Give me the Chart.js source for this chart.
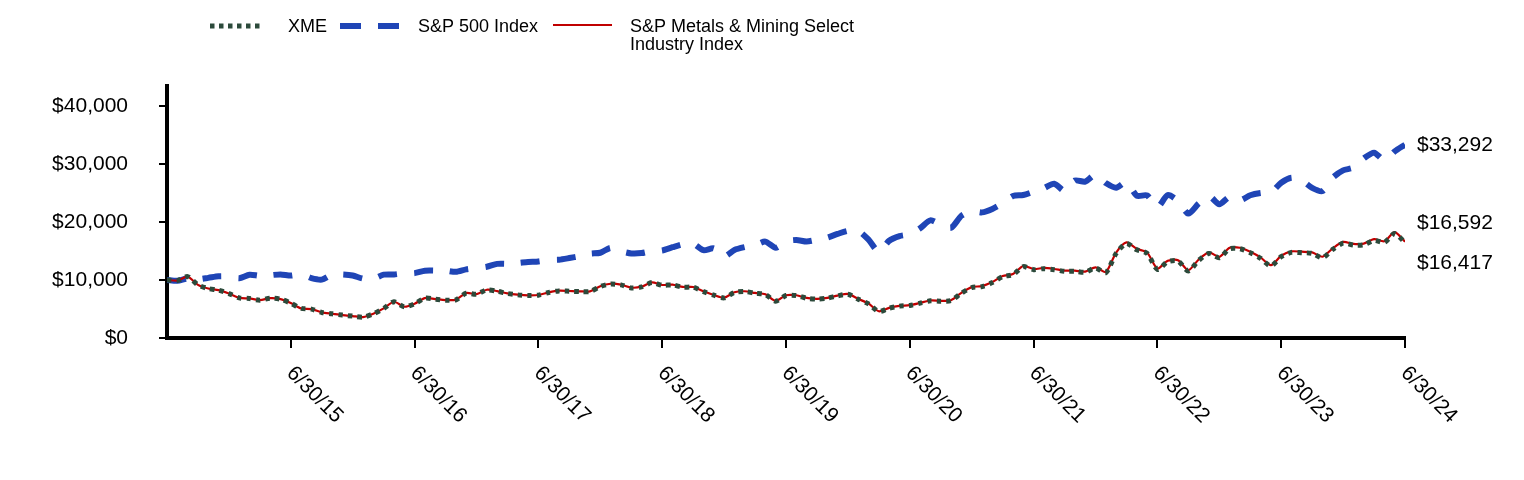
<!DOCTYPE html>
<html>
<head>
<meta charset="utf-8">
<script src="https://cdn.jsdelivr.net/npm/chart.js@4.4.1/dist/chart.umd.min.js"></script>
<style>
  html, body { margin: 0; padding: 0; background: #fff; }
  #wrap { width: 1524px; height: 480px; }
</style>
</head>
<body>
<div id="wrap"><canvas id="growthChart" width="1524" height="480"></canvas></div>
<script>
// month index 0 = 6/30/14 ... 120 = 6/30/24
const tickMonths = [12, 24, 36, 48, 60, 72, 84, 96, 108, 120];
const tickLabels = ['6/30/15', '6/30/16', '6/30/17', '6/30/18', '6/30/19',
                    '6/30/20', '6/30/21', '6/30/22', '6/30/23', '6/30/24'];
const yTicks = [0, 10000, 20000, 30000, 40000];

const xme = [
  10000, 9886, 10571, 9143, 8514, 8229, 7657, 6914, 6800, 6514, 6857, 6686,
  6000, 5086, 4971, 4400, 4171, 3943, 3771, 3600, 4171, 5086, 6229, 5371,
  5886, 6857, 6686, 6514, 6571, 7714, 7543, 8286, 8057, 7657, 7429, 7314,
  7371, 7829, 8114, 8057, 8000, 8000, 8857, 9300, 9143, 8629, 8800, 9543,
  9086, 9143, 8743, 8743, 8000, 7371, 6914, 7829, 8000, 7714, 7486, 6343,
  7314, 7314, 6857, 6686, 6857, 7257, 7543, 6686, 5886, 4571, 5143, 5486,
  5600, 6000, 6400, 6343, 6457, 7714, 8686, 8857, 9543, 10571, 10914, 12286,
  11771, 11943, 11771, 11486, 11486, 11314, 12057, 11257, 14571, 16286, 15200, 14571,
  11829, 13143, 13257, 11543, 13371, 14571, 13829, 15371, 15371, 14686, 13714, 12400,
  14000, 14743, 14686, 14571, 13829, 15257, 16343, 16000, 16057, 16800, 16457, 18000,
  16417
];

const sp500 = [
  10000, 9862, 10257, 10113, 10360, 10639, 10612, 10294, 10886, 10714, 10817, 10956,
  10743, 10969, 10308, 10053, 10902, 10935, 10762, 10228, 10215, 10907, 10950, 11147,
  11176, 11588, 11604, 11607, 11395, 11817, 12051, 12280, 12767, 12782, 12914, 13096,
  13177, 13449, 13490, 13768, 14089, 14521, 14682, 15524, 14951, 14571, 14627, 14979,
  15072, 15633, 16142, 16234, 15124, 15432, 14039, 15164, 15651, 15954, 16600, 15546,
  16642, 16882, 16615, 16926, 17293, 17921, 18462, 18454, 16936, 14844, 16747, 17545,
  17894, 18903, 20262, 19492, 18973, 21051, 21859, 21638, 22235, 23209, 24449, 24620,
  25194, 25793, 26578, 25342, 27118, 26931, 28138, 26683, 25885, 26845, 24504, 24548,
  22523, 24600, 23596, 21423, 23159, 24453, 23044, 24300, 23710, 24580, 24960, 25070,
  26730, 27590, 27150, 25850, 25310, 27620, 28870, 29360, 30930, 31920, 30620, 32140,
  33292
];

const metalsIndex = [
  10000, 9890, 10578, 9150, 8522, 8238, 7665, 6922, 6809, 6523, 6867, 6696,
  6010, 5095, 4980, 4409, 4180, 3952, 3780, 3609, 4182, 5099, 6245, 5386,
  5903, 6877, 6706, 6534, 6592, 7739, 7569, 8315, 8086, 7686, 7458, 7343,
  7401, 7862, 8148, 8091, 8035, 8036, 8898, 9343, 9186, 8671, 8843, 9591,
  9133, 9191, 8790, 8791, 8045, 7413, 6954, 7876, 8049, 7762, 7533, 6384,
  7362, 7363, 6904, 6732, 6905, 7309, 7598, 6736, 5931, 4607, 5184, 5531,
  5647, 6051, 6455, 6398, 6514, 7783, 8765, 8939, 9632, 10671, 11018, 12404,
  11885, 12060, 11887, 11600, 11601, 11428, 12180, 11373, 14723, 16457, 15361, 14727,
  11957, 13286, 13402, 11670, 13519, 14733, 13984, 15544, 15546, 14855, 13873, 12545,
  14165, 14918, 14862, 14747, 13998, 15445, 16546, 16200, 16259, 17013, 16668, 18232,
  16592
];

const FONT = '"Liberation Sans", Arial, sans-serif';
const money = v => '$' + v.toLocaleString('en-US');
const toPoints = arr => arr.map((v, i) => ({ x: i, y: v }));

// legend, rotated dates and end values
const overlay = {
  id: 'overlay',
  afterDraw(chart) {
    const { ctx, chartArea, scales: { x, y } } = chart;
    ctx.save();
    ctx.fillStyle = '#000';

    ctx.font = '21px ' + FONT;
    ctx.textAlign = 'left';
    ctx.textBaseline = 'middle';
    tickMonths.forEach((m, k) => {
      ctx.save();
      ctx.translate(x.getPixelForValue(m) - 1, chartArea.bottom + 32);
      ctx.rotate(Math.PI / 4);
      ctx.fillText(tickLabels[k], 0, 0);
      ctx.restore();
    });

    const lx = chartArea.right + 12;
    const spLast = sp500[sp500.length - 1];
    const idxLast = metalsIndex[metalsIndex.length - 1];
    const xmeLast = xme[xme.length - 1];
    ctx.fillText(money(spLast), lx, y.getPixelForValue(spLast) + 1);
    ctx.fillText(money(idxLast), lx, y.getPixelForValue(idxLast) - 18);
    ctx.fillText(money(xmeLast), lx, y.getPixelForValue(xmeLast) + 21);

    // legend
    ctx.lineCap = 'butt';
    ctx.strokeStyle = '#2c4a3b';
    ctx.lineWidth = 5;
    ctx.setLineDash([4.5, 4.5]);
    ctx.beginPath(); ctx.moveTo(210, 26); ctx.lineTo(264, 26); ctx.stroke();

    ctx.strokeStyle = '#1f45b6';
    ctx.lineWidth = 6;
    ctx.setLineDash([21, 17]);
    ctx.beginPath(); ctx.moveTo(340, 26); ctx.lineTo(399, 26); ctx.stroke();

    ctx.strokeStyle = '#c00000';
    ctx.lineWidth = 2;
    ctx.setLineDash([]);
    ctx.beginPath(); ctx.moveTo(553, 25); ctx.lineTo(612, 25); ctx.stroke();

    ctx.font = '18px ' + FONT;
    ctx.fillText('XME', 288, 27);
    ctx.fillText('S&P 500 Index', 418, 27);
    ctx.fillText('S&P Metals & Mining Select', 630, 27);
    ctx.fillText('Industry Index', 630, 45);
    ctx.restore();
  }
};

const ctx = document.getElementById('growthChart').getContext('2d');
new Chart(ctx, {
  type: 'line',
  data: {
    datasets: [
      {
        label: 'XME',
        data: toPoints(xme),
        borderColor: '#2c4a3b',
        borderWidth: 5,
        borderDash: [4.5, 5],
        borderCapStyle: 'butt',
        pointRadius: 0,
        tension: 0.25,
        fill: false
      },
      {
        label: 'S&P Metals & Mining Select Industry Index',
        data: toPoints(metalsIndex),
        borderColor: '#c00000',
        borderWidth: 2.2,
        pointRadius: 0,
        tension: 0.25,
        fill: false
      },
      {
        label: 'S&P 500 Index',
        data: toPoints(sp500),
        borderColor: '#1f45b6',
        borderWidth: 6,
        borderDash: [19, 17],
        borderCapStyle: 'butt',
        pointRadius: 0,
        tension: 0.25,
        fill: false
      }
    ]
  },
  options: {
    responsive: false,
    animation: false,
    events: [],
    layout: { padding: { top: 86, right: 119, bottom: 0, left: 0 } },
    plugins: {
      legend: { display: false },
      tooltip: { enabled: false }
    },
    scales: {
      x: {
        type: 'linear',
        min: 0,
        max: 120,
        afterBuildTicks: s => { s.ticks = tickMonths.map(v => ({ value: v })); },
        afterFit: s => { s.height = 142; },
        ticks: { display: false },
        grid: { drawOnChartArea: false, drawTicks: true, tickLength: 10, color: '#000', lineWidth: 2 },
        border: { color: '#000', width: 4 }
      },
      y: {
        min: 0,
        max: 43400,
        afterBuildTicks: s => { s.ticks = yTicks.map(v => ({ value: v })); },
        afterFit: s => { s.width = 167; },
        ticks: {
          color: '#000',
          padding: 31,
          font: { family: FONT, size: 21 },
          callback: v => money(v)
        },
        grid: { drawOnChartArea: false, drawTicks: true, tickLength: 8, color: '#000', lineWidth: 2 },
        border: { color: '#000', width: 4 }
      }
    }
  },
  plugins: [overlay]
});
</script>
</body>
</html>
